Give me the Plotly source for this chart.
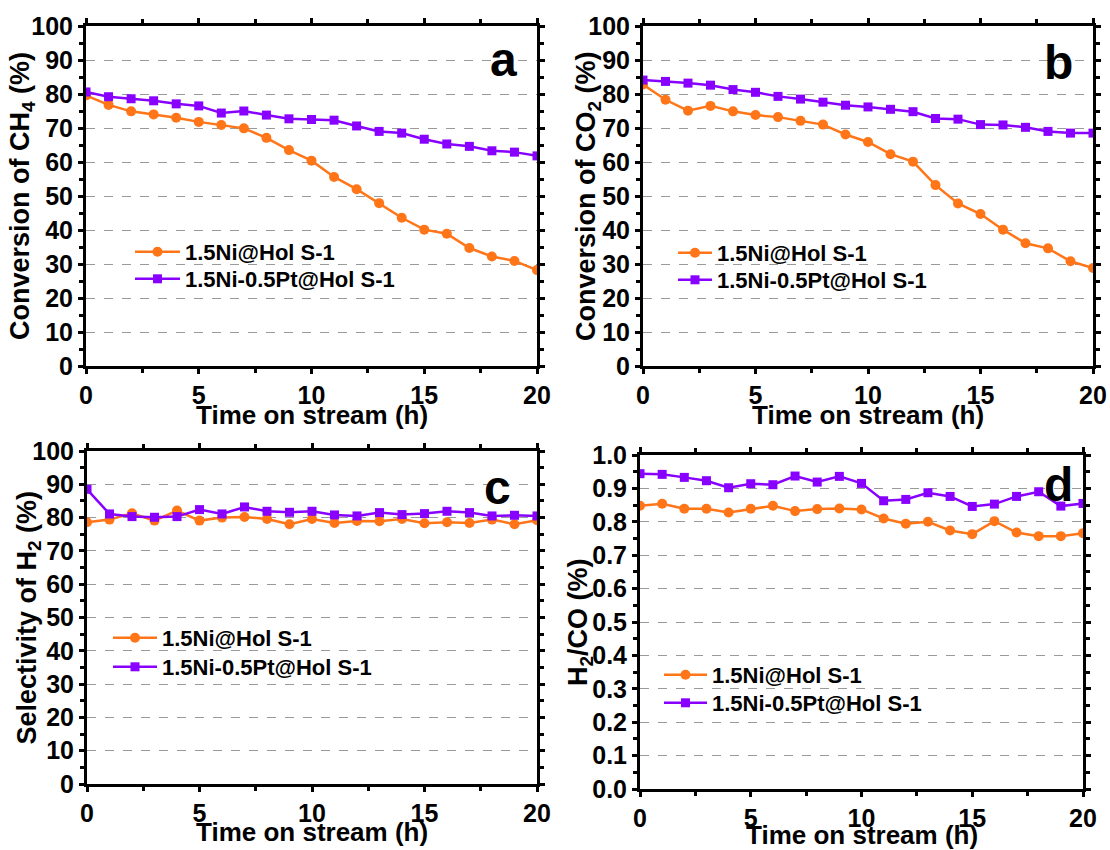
import plotly.graph_objects as go

# Time on stream (h)
hours = list(range(21))

# (a) CH4 conversion (%)
ch4_ni = [79.6, 76.8, 74.9, 74.0, 73.0, 71.8, 70.9, 69.9, 67.1, 63.5, 60.4,
          55.6, 52.0, 47.9, 43.6, 40.1, 38.9, 34.7, 32.2, 30.9, 28.2]
ch4_nipt = [80.6, 79.2, 78.6, 78.0, 77.1, 76.5, 74.4, 75.0, 73.8, 72.7, 72.5,
            72.3, 70.6, 69.0, 68.5, 66.7, 65.3, 64.6, 63.3, 62.9, 61.8]

# (b) CO2 conversion (%)
co2_ni = [82.8, 78.3, 75.1, 76.5, 74.9, 73.8, 73.2, 72.1, 71.0, 68.1, 65.9,
          62.3, 60.1, 53.2, 47.8, 44.7, 40.1, 36.1, 34.6, 30.8, 28.8]
co2_nipt = [84.1, 83.7, 83.2, 82.6, 81.3, 80.5, 79.3, 78.5, 77.6, 76.7, 76.2,
            75.5, 74.8, 72.8, 72.6, 71.0, 70.9, 70.2, 69.0, 68.5, 68.5]

# (c) H2 selectivity (%)
h2_ni = [78.6, 79.4, 81.3, 79.1, 82.1, 79.1, 80.0, 80.2, 79.6, 78.0, 79.6,
         78.4, 79.0, 78.9, 79.6, 78.3, 78.6, 78.4, 79.4, 78.0, 79.2]
h2_nipt = [88.5, 81.1, 80.3, 80.1, 80.3, 82.4, 81.1, 83.2, 81.9, 81.6, 81.9,
           80.8, 80.5, 81.5, 80.9, 81.2, 81.9, 81.5, 80.5, 80.7, 80.5]

# (d) H2/CO ratio
ratio_ni = [0.848, 0.854, 0.839, 0.839, 0.828, 0.839, 0.848, 0.832, 0.838, 0.840, 0.837,
            0.810, 0.794, 0.800, 0.774, 0.763, 0.802, 0.768, 0.757, 0.757, 0.766]
ratio_nipt = [0.944, 0.942, 0.933, 0.923, 0.902, 0.914, 0.911, 0.937, 0.919, 0.936, 0.915,
              0.863, 0.867, 0.887, 0.876, 0.846, 0.853, 0.876, 0.890, 0.847, 0.855]

names = ["1.5Ni@Hol S-1", "1.5Ni-0.5Pt@Hol S-1"]
ORANGE = "#FF7518"
PURPLE = "#8800FF"
FONT = "Liberation Sans, Arial, sans-serif"
W, H = 1110, 850

panels = [
    # key, ni, nipt, x px range, y px range (top, bottom), ymax, dtick, minor, fmt, ytitle
    ("a", ch4_ni, ch4_nipt, (86, 537), (26, 366), 100, 10, 5, "d",
     "Conversion of CH<sub>4</sub> (%)"),
    ("b", co2_ni, co2_nipt, (643, 1093), (26, 366), 100, 10, 5, "d",
     "Conversion of CO<sub>2</sub> (%)"),
    ("c", h2_ni, h2_nipt, (87, 537), (451, 784), 100, 10, 5, "d",
     "Selectivity of H<sub>2</sub> (%)"),
    ("d", ratio_ni, ratio_nipt, (640, 1083), (455, 789), 1.0, 0.1, 0.05, ".1f",
     "H<sub>2</sub>/CO (%)"),
]

# legend entries per panel: left px, row centres px (Ni, Ni-Pt), symbol width
legend_pos = {"a": (130, (252, 279), 45), "b": (673, (253, 280), 34),
              "c": (108, (638, 667), 44), "d": (659, (675, 703), 43)}
# panel letter centre (px)
letter_pos = {"a": (503, 60), "b": (1058, 62), "c": (497, 487), "d": (1058, 484)}
# y-axis title centre x (px)
ytitle_x = {"a": 22, "b": 588, "c": 28, "d": 580}
# x-axis title offset below the plot area (px)
xtitle_dy = {"a": 49, "b": 49, "c": 48, "d": 46}

fig = go.Figure()
annotations = []
layout = {}
styles = [
    (ORANGE, dict(symbol="circle", size=10, color=ORANGE)),
    (PURPLE, dict(symbol="square", size=9, color=PURPLE)),
]

leg_idx = 0
for i, (key, ni, nipt, (x0, x1), (yt, yb), ymax, dt, mdt, fmt, ytitle) in enumerate(panels):
    n = "" if i == 0 else str(i + 1)
    lx, rows, iw = legend_pos[key]
    for k, series in enumerate((ni, nipt)):
        leg_idx += 1
        leg = "legend" if leg_idx == 1 else "legend%d" % leg_idx
        color, marker = styles[k]
        fig.add_trace(go.Scatter(
            x=hours, y=series, name=names[k], mode="lines+markers",
            line=dict(color=color, width=2.5), marker=marker,
            xaxis="x" + n, yaxis="y" + n, legend=leg, showlegend=True))
        layout[leg] = dict(x=lx / W, y=1 - rows[k] / H, xanchor="left", yanchor="middle",
                           bgcolor="rgba(0,0,0,0)", itemwidth=iw, visible=True,
                           font=dict(family=FONT, size=22, color="black", weight="bold"))

    common = dict(showline=True, linecolor="black", linewidth=3, mirror="ticks",
                  ticks="outside", ticklen=5, tickwidth=2.5, tickcolor="black",
                  tickfont=dict(family=FONT, size=25, color="black", weight="bold"),
                  zeroline=False, automargin=False)
    layout["xaxis" + n] = dict(
        common, domain=[x0 / W, x1 / W], range=[0, 20], dtick=5, tick0=0,
        showgrid=False, anchor="y" + n, ticklabelstandoff=0,
        minor=dict(ticks="outside", ticklen=4, tickwidth=2.5, dtick=2.5,
                   tickcolor="black", showgrid=False))
    layout["yaxis" + n] = dict(
        common, domain=[1 - yb / H, 1 - yt / H], range=[0, ymax], dtick=dt, tick0=0,
        tickformat=fmt, showgrid=True, gridcolor="#9a9a9a", griddash="dash",
        gridwidth=1.2, anchor="x" + n,
        minor=dict(ticks="outside", ticklen=4, tickwidth=2.5, dtick=mdt,
                   tickcolor="black", showgrid=False))

    cx, cy = letter_pos[key]
    annotations.append(dict(text=key, x=cx / W, y=1 - cy / H, xref="paper", yref="paper",
                            showarrow=False, xanchor="center", yanchor="middle",
                            font=dict(family=FONT, size=48, color="black", weight="bold")))
    annotations.append(dict(text=ytitle, x=ytitle_x[key] / W, y=1 - (yt + yb) / 2 / H,
                            xref="paper", yref="paper", showarrow=False, textangle=-90,
                            xanchor="center", yanchor="middle",
                            font=dict(family=FONT, size=27, color="black", weight="bold")))
    annotations.append(dict(text="Time on stream (h)", x=(x0 + x1) / 2 / W,
                            y=1 - (yb + xtitle_dy[key]) / H, xref="paper", yref="paper",
                            showarrow=False, xanchor="center", yanchor="middle",
                            font=dict(family=FONT, size=26, color="black", weight="bold")))

fig.update_layout(
    width=W, height=H, margin=dict(l=0, r=0, t=0, b=0),
    paper_bgcolor="white", plot_bgcolor="white", showlegend=True,
    annotations=annotations, **layout)

fig.write_html("out.html")
